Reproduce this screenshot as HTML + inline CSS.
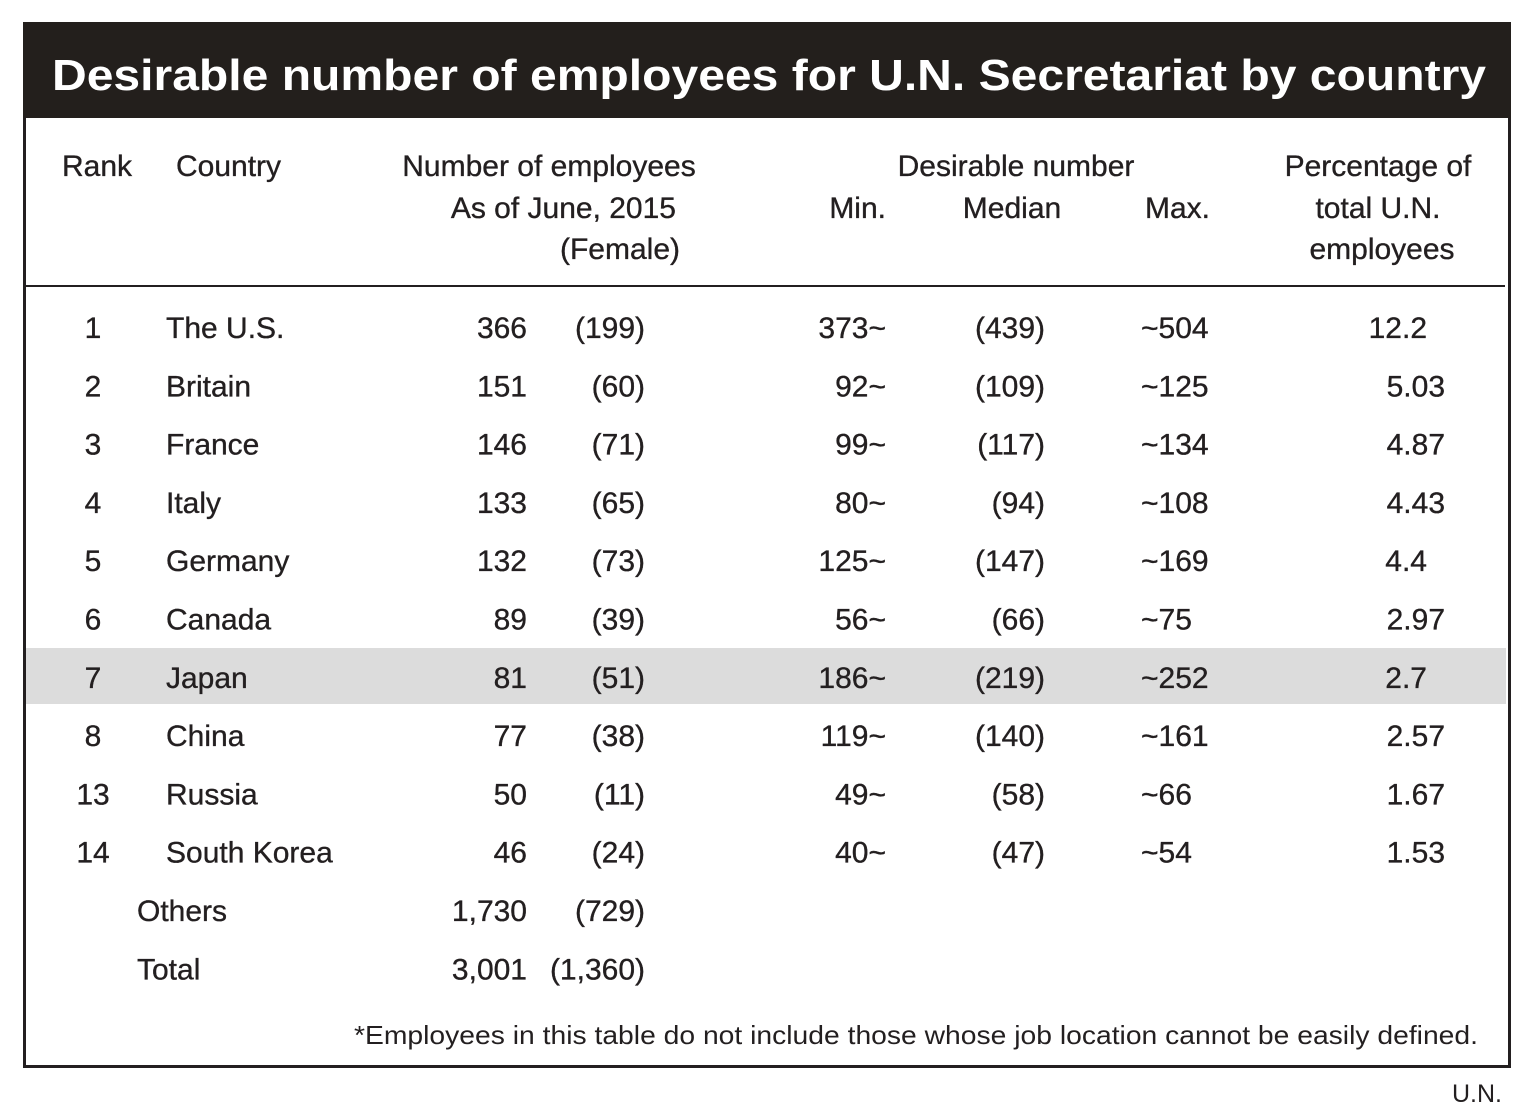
<!DOCTYPE html>
<html><head><meta charset="utf-8"><style>
html,body{margin:0;padding:0;background:#fff;}
svg{display:block;font-family:"Liberation Sans",sans-serif;}
.t{font-size:30px;fill:#231f20;stroke:#231f20;stroke-width:0.35px;}
</style></head><body>
<svg id="chart" width="1533" height="1104" viewBox="0 0 1533 1104">
<rect x="24.5" y="23.5" width="1485" height="1043" fill="#fff" stroke="#231f20" stroke-width="3"/>
<rect x="23" y="22" width="1488" height="96" fill="#231f1c"/>
<text x="769" y="90" text-anchor="middle" font-size="44" font-weight="bold" fill="#fff" textLength="1434" lengthAdjust="spacingAndGlyphs">Desirable number of employees for U.N. Secretariat by country</text>
<line x1="25" y1="286" x2="1505" y2="286" stroke="#231f20" stroke-width="2"/>
<rect x="26" y="648" width="1480" height="56" fill="#dcdcdc"/>
<g class="t">
<text x="62" y="176">Rank</text>
<text x="176" y="176">Country</text>
<text x="549" y="176" text-anchor="middle">Number of employees</text>
<text x="676" y="218" text-anchor="end">As of June, 2015</text>
<text x="680" y="259" text-anchor="end">(Female)</text>
<text x="1016" y="176" text-anchor="middle">Desirable number</text>
<text x="886" y="218" text-anchor="end">Min.</text>
<text x="1012" y="218" text-anchor="middle">Median</text>
<text x="1145" y="218">Max.</text>
<text x="1378" y="176" text-anchor="middle">Percentage of</text>
<text x="1378" y="218" text-anchor="middle">total U.N.</text>
<text x="1382" y="259" text-anchor="middle">employees</text>
</g>
<g id="rows" class="t"></g>
<text x="1478" y="1044" text-anchor="end" font-size="26" fill="#231f20" textLength="1124" lengthAdjust="spacingAndGlyphs">*Employees in this table do not include those whose job location cannot be easily defined.</text>
<text x="1502" y="1102" text-anchor="end" font-size="25" fill="#231f20">U.N.</text>
</svg>
<script>
const ranks=["1","2","3","4","5","6","7","8","13","14","",""];
const countries=["The U.S.","Britain","France","Italy","Germany","Canada","Japan","China","Russia","South Korea","Others","Total"];
const employees=["366","151","146","133","132","89","81","77","50","46","1,730","3,001"];
const females=["(199)","(60)","(71)","(65)","(73)","(39)","(51)","(38)","(11)","(24)","(729)","(1,360)"];
const mins=["373~","92~","99~","80~","125~","56~","186~","119~","49~","40~","",""];
const medians=["(439)","(109)","(117)","(94)","(147)","(66)","(219)","(140)","(58)","(47)","",""];
const maxs=["~504","~125","~134","~108","~169","~75","~252","~161","~66","~54","",""];
const pcts=["12.2","5.03","4.87","4.43","4.4","2.97","2.7","2.57","1.67","1.53","",""];
const g=document.getElementById('rows');
const NS='http://www.w3.org/2000/svg';
function txt(x,y,s,anchor,name){
  if(!s)return;
  const t=document.createElementNS(NS,'text');
  t.setAttribute('x',x);t.setAttribute('y',y);
  if(anchor)t.setAttribute('text-anchor',anchor);
  t.textContent=s;
  
  
  g.appendChild(t);
}
countries.forEach((c,i)=>{
  const y=338+i*58.3;
  txt(93,y,ranks[i],'middle','rank-cell');
  txt(i>=10?137:166,y,c,null,'country-cell');
  txt(527,y,employees[i],'end','employees-cell');
  txt(645,y,females[i],'end','female-cell');
  txt(886,y,mins[i],'end','min-cell');
  txt(1045,y,medians[i],'end','median-cell');
  txt(1141,y,maxs[i],null,'max-cell');
  const p=pcts[i];
  const dec=p.indexOf('.')>=0?p.length-p.indexOf('.')-1:0;
  txt(dec===2?1445:1427,y,p,'end','percentage-cell');
});
</script>
</body></html>
